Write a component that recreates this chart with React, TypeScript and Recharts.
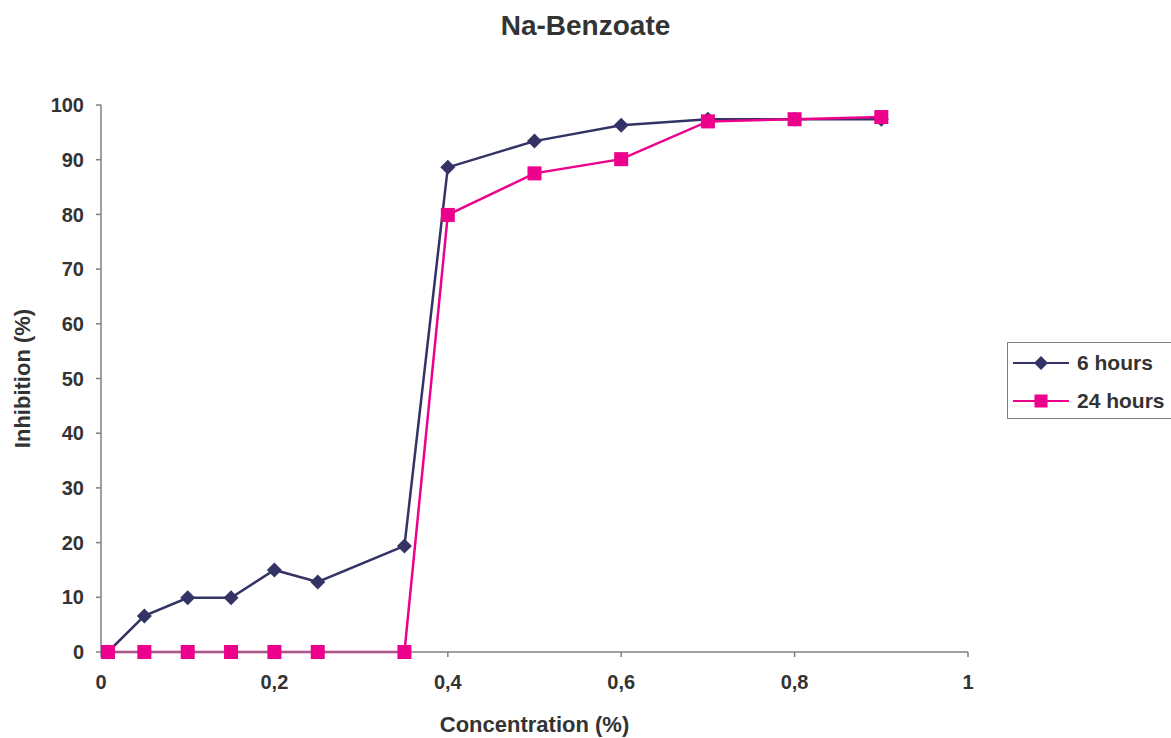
import React from 'react'
import {
  Label,
  Legend,
  Line,
  LineChart,
  XAxis,
  YAxis,
} from 'recharts'

const concentration = [0.008, 0.05, 0.1, 0.15, 0.2, 0.25, 0.35, 0.4, 0.5, 0.6, 0.7, 0.8, 0.9]
const sixHours = [0, 6.6, 9.9, 9.9, 15.0, 12.8, 19.4, 88.6, 93.4, 96.3, 97.4, 97.4, 97.4]
const twentyFourHours = [0, 0, 0, 0, 0, 0, 0, 79.9, 87.5, 90.1, 97.0, 97.4, 97.8]
const xTicks = [0, 0.2, 0.4, 0.6, 0.8, 1]
const yTicks = [0, 10, 20, 30, 40, 50, 60, 70, 80, 90, 100]

const data = concentration.map((c, i) => ({
  c,
  six: sixHours[i],
  twentyFour: twentyFourHours[i],
}))

const NAVY = '#333366'
const PINK = '#EC008C'
const FONT = '"Liberation Sans", Arial, sans-serif'
const TEXT = '#333333'
const AXIS = '#808080'

const Diamond = ({ cx, cy, r = 7.5, color = NAVY }: any) => (
  <polygon
    points={`${cx},${cy - r} ${cx + r},${cy} ${cx},${cy + r} ${cx - r},${cy}`}
    fill={color}
  />
)

const Square = ({ cx, cy, s = 14, color = PINK }: any) => (
  <rect x={cx - s / 2} y={cy - s / 2} width={s} height={s} fill={color} />
)

const renderLegend = () => (
  <div
    style={{
      border: `1.5px solid ${AXIS}`,
      width: 175,
      height: 77,
      boxSizing: 'border-box',
      fontFamily: FONT,
      fontWeight: 'bold',
      fontSize: 21,
      color: TEXT,
      paddingTop: 1,
    }}
  >
    {[
      { name: '6 hours', color: NAVY, shape: 'diamond' },
      { name: '24 hours', color: PINK, shape: 'square' },
    ].map((item) => (
      <div key={item.name} style={{ display: 'flex', alignItems: 'center', height: 38 }}>
        <svg width={64} height={20} style={{ marginLeft: 5 }}>
          <line x1={0} y1={10} x2={56} y2={10} stroke={item.color} strokeWidth={2} />
          {item.shape === 'diamond' ? (
            <Diamond cx={28} cy={10} r={7} color={item.color} />
          ) : (
            <Square cx={28} cy={10} s={13} color={item.color} />
          )}
        </svg>
        <span>{item.name}</span>
      </div>
    ))}
  </div>
)

export default function App() {
  return (
    <div style={{ position: 'relative', width: 1171, height: 738, overflow: 'hidden', background: '#fff' }}>
      <style>{'html,body{margin:0;padding:0;overflow:hidden;}'}</style>
      <div
        style={{
          position: 'absolute',
          top: 10,
          left: 0,
          width: 1171,
          textAlign: 'center',
          fontFamily: FONT,
          fontWeight: 'bold',
          fontSize: 28,
          color: TEXT,
        }}
      >
        Na-Benzoate
      </div>
      <LineChart
        width={1171}
        height={738}
        data={data}
        margin={{ top: 105, right: 203, left: 0, bottom: 0 }}
      >
        <XAxis
          dataKey="c"
          type="number"
          domain={[0, 1]}
          ticks={xTicks}
          tickFormatter={(v) => String(v).replace('.', ',')}
          height={86}
          stroke={AXIS}
          strokeWidth={1.5}
          tickSize={5}
          tickMargin={18}
          tick={{ fill: TEXT, fontSize: 20, fontWeight: 'bold', fontFamily: FONT }}
        >
          <Label
            value="Concentration (%)"
            position="insideBottom"
            offset={6}
            style={{ fill: TEXT, fontSize: 22, fontWeight: 'bold', fontFamily: FONT }}
          />
        </XAxis>
        <YAxis
          type="number"
          domain={[0, 100]}
          ticks={yTicks}
          width={101}
          stroke={AXIS}
          strokeWidth={1.5}
          tickSize={5}
          tickMargin={12}
          tick={{ fill: TEXT, fontSize: 20, fontWeight: 'bold', fontFamily: FONT }}
        >
          <Label
            value="Inhibition (%)"
            angle={-90}
            position="insideLeft"
            offset={22}
            style={{ textAnchor: 'middle', fill: TEXT, fontSize: 22, fontWeight: 'bold', fontFamily: FONT }}
          />
        </YAxis>
        <Legend
          layout="vertical"
          align="center"
          verticalAlign="middle"
          content={renderLegend}
          wrapperStyle={{ left: 1007, top: 342, width: 175 }}
        />
        <Line
          dataKey="six"
          name="6 hours"
          stroke={NAVY}
          strokeWidth={2.5}
          isAnimationActive={false}
          dot={(p: any) => <Diamond key={`d${p.index}`} cx={p.cx} cy={p.cy} />}
        />
        <Line
          dataKey="twentyFour"
          name="24 hours"
          stroke={PINK}
          strokeWidth={2.5}
          isAnimationActive={false}
          dot={(p: any) => <Square key={`s${p.index}`} cx={p.cx} cy={p.cy} />}
        />
      </LineChart>
    </div>
  )
}
